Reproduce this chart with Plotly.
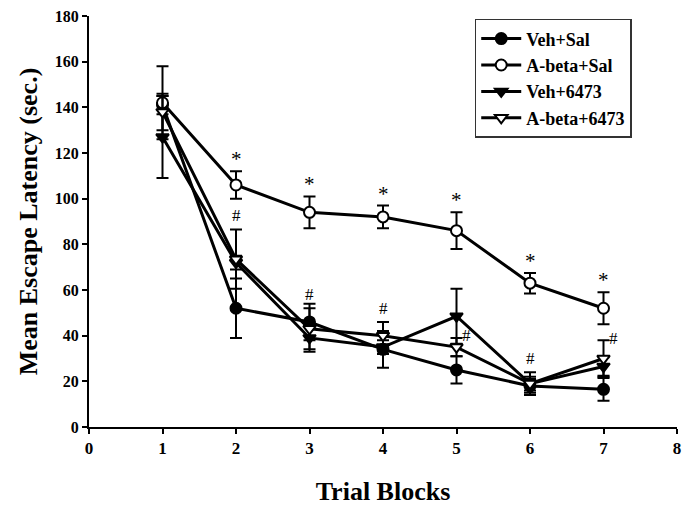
import plotly.graph_objects as go

# Trial blocks and group means (sec.) with SEM
blocks = [1, 2, 3, 4, 5, 6, 7]

veh_sal = [141, 52, 46, 34, 25, 18, 16.5]
veh_sal_err = [4, 13, 8, 8, 6, 3, 5]

abeta_sal = [142, 106, 94, 92, 86, 63, 52]
abeta_sal_err = [16, 6, 7, 5, 8, 4.5, 7]

veh_6473 = [127, 72, 39, 35, 48.5, 19, 26.5]
veh_6473_err = [18, 3, 6, 3, 12, 3, 4]

abeta_6473 = [138, 73.5, 43, 40, 35, 19, 30]
abeta_6473_err = [8, 13, 9, 6, 4, 5, 8]

# significance marks
star_blocks = [2, 3, 4, 5, 6, 7]        # A-beta+Sal vs Veh+Sal
hash_blocks = [2, 3, 4, 5, 6, 7]        # A-beta+6473 vs A-beta+Sal
hash_side = [5, 7]                      # marks set to the right of the bar

x_ticks = [0, 1, 2, 3, 4, 5, 6, 7, 8]
y_ticks = [0, 20, 40, 60, 80, 100, 120, 140, 160, 180]

SERIF = "Liberation Serif"

series = [
    ("Veh+Sal", veh_sal, veh_sal_err, "circle", "black"),
    ("A-beta+Sal", abeta_sal, abeta_sal_err, "circle", "white"),
    ("Veh+6473", veh_6473, veh_6473_err, "triangle-down", "black"),
    ("A-beta+6473", abeta_6473, abeta_6473_err, "triangle-down", "white"),
]

fig = go.Figure()
for name, vals, errs, sym, fill in series:
    fig.add_trace(go.Scatter(
        x=blocks, y=vals, name=name, mode="lines+markers",
        line=dict(color="black", width=3),
        marker=dict(symbol=sym, size=11, color=fill,
                    line=dict(color="black", width=2)),
        error_y=dict(type="data", array=errs, symmetric=True,
                     color="black", thickness=2, width=6),
    ))

annotations = []
for b in star_blocks:
    i = blocks.index(b)
    annotations.append(dict(
        x=b, y=abeta_sal[i] + abeta_sal_err[i], text="*",
        showarrow=False, yanchor="bottom", yshift=-2,
        font=dict(family=SERIF, size=21, color="black"),
    ))
for b in hash_blocks:
    i = blocks.index(b)
    top = abeta_6473[i] + abeta_6473_err[i]
    if b in hash_side:
        annotations.append(dict(
            x=b, y=top, text="#", showarrow=False,
            xanchor="left", yanchor="middle", xshift=3, yshift=2,
            font=dict(family=SERIF, size=17, color="black"),
        ))
    else:
        annotations.append(dict(
            x=b, y=top, text="#", showarrow=False,
            yanchor="bottom", yshift=2,
            font=dict(family=SERIF, size=17, color="black"),
        ))

fig.update_layout(
    width=683, height=506,
    margin=dict(l=89, r=6, t=16, b=79),
    paper_bgcolor="white", plot_bgcolor="white",
    font=dict(family=SERIF, color="black"),
    showlegend=True,
    legend=dict(
        x=0.656, y=0.993, xanchor="left", yanchor="top",
        bgcolor="white", bordercolor="#333333", borderwidth=1.5,
        font=dict(family=SERIF, size=18, color="black", weight="bold"),
        itemwidth=40, tracegroupgap=0, entrywidth=140,
    ),
    annotations=annotations,
    xaxis=dict(
        range=[0, 8], tickvals=x_ticks, ticks="outside", ticklen=5,
        tickwidth=1.5, tickcolor="black",
        showline=True, linecolor="black", linewidth=2,
        showgrid=False, zeroline=False, automargin=False,
        tickfont=dict(family=SERIF, size=17, color="black", weight="bold"),
        title=dict(text="Trial Blocks", standoff=26,
                   font=dict(family=SERIF, size=26, color="black", weight="bold")),
    ),
    yaxis=dict(
        range=[0, 180], tickvals=y_ticks, ticks="outside", ticklen=5,
        tickwidth=1.5, tickcolor="black",
        showline=True, linecolor="black", linewidth=2,
        showgrid=False, zeroline=False, automargin=False,
        tickfont=dict(family=SERIF, size=16, color="black", weight="bold"),
        title=dict(text="Mean Escape Latency (sec.)", standoff=10,
                   font=dict(family=SERIF, size=26, color="black", weight="bold")),
    ),
)

fig.write_html("out.html")
